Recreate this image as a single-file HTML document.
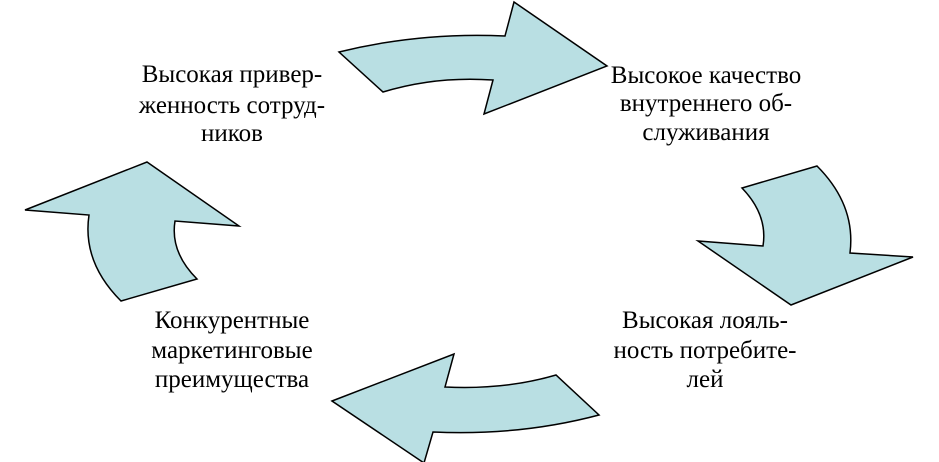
<!DOCTYPE html>
<html><head><meta charset="utf-8"><style>
html,body{margin:0;padding:0;background:#fff;width:939px;height:462px;overflow:hidden}
svg{display:block}
text{font-family:"Liberation Serif",serif;font-size:25px;fill:#000;text-anchor:middle}
path{fill:#b9dfe3;stroke:#000;stroke-width:1.5;stroke-linejoin:miter}
</style></head><body>
<svg width="939" height="462" viewBox="0 0 939 462" xmlns="http://www.w3.org/2000/svg">
<path d="M339 52 Q420 32 505 36 L514 2 L607 66 L484 114 L493 80 Q435 76 383 92 Z"/>
<path d="M817 166 Q856 205 850 253 L913 257 L791 305 L698 241 L763 246 Q768 215 742 188 Z"/>
<path d="M332 401 L454 354 L445 387 Q505 390 556 375 L599 415 Q520 436 433 432 L424 463 Z"/>
<path d="M147 162 L239 226 L175 221 Q170 252 197 279 L121 301 Q82 262 89 215 L25 210 Z"/>
<text x="232" y="82">Высокая привер-</text>
<text x="232" y="113">женность сотруд-</text>
<text x="232" y="141">ников</text>
<text x="706" y="83">Высокое качество</text>
<text x="706" y="111">внутреннего об-</text>
<text x="706" y="140">служивания</text>
<text x="705" y="328">Высокая лояль-</text>
<text x="705" y="358">ность потребите-</text>
<text x="705" y="387">лей</text>
<text x="232" y="328">Конкурентные</text>
<text x="232" y="358">маркетинговые</text>
<text x="232" y="387">преимущества</text>
</svg>
</body></html>
